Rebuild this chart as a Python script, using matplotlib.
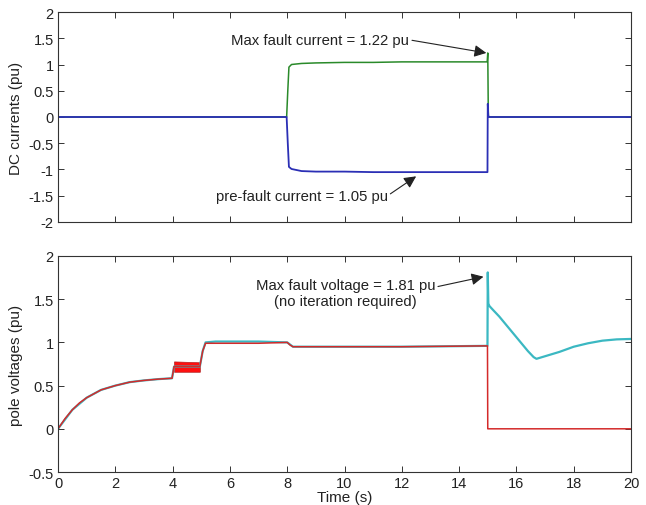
import matplotlib
matplotlib.use('Agg')
import matplotlib.pyplot as plt

plt.rcParams['font.family'] = ['Liberation Sans', 'DejaVu Sans']

# DC currents (top panel)
t_green = [0, 7.98, 8.02, 8.06, 8.15, 8.5, 9, 10, 11, 12, 13, 14, 14.98, 15.0, 15.02, 20]
i_green = [0, 0, 0.5, 0.95, 1.0, 1.02, 1.03, 1.04, 1.04, 1.05, 1.05, 1.05, 1.05, 1.22, 0, 0]
t_blue = [0, 7.98, 8.02, 8.06, 8.15, 8.5, 9, 10, 11, 12, 13, 14, 14.99, 15.0, 15.02, 15.05, 20]
i_blue = [0, 0, -0.5, -0.95, -0.99, -1.03, -1.04, -1.04, -1.05, -1.05, -1.05, -1.05, -1.05,
          0.25, 0.02, 0, 0]

# pole voltages (bottom panel)
t_red = [0, 0.25, 0.5, 0.75, 1, 1.5, 2, 2.5, 3, 3.5, 3.98, 4.05, 4.95, 5.05, 5.15, 5.5, 7,
         8, 8.1, 8.2, 9, 12, 14.99, 15.0, 20]
v_red = [0, 0.12, 0.22, 0.3, 0.36, 0.45, 0.5, 0.54, 0.56, 0.575, 0.585, 0.72, 0.72, 0.9, 0.99,
         0.99, 0.99, 1.0, 0.97, 0.95, 0.95, 0.95, 0.96, 0, 0]
t_band = [4.05, 4.95]
band_lo = [0.66, 0.66]
band_hi = [0.78, 0.77]
t_cyan = [0, 0.5, 1, 1.5, 2, 2.5, 3, 3.5, 3.98, 4.05, 4.95, 5.05, 5.15, 5.5, 7, 8, 8.2, 12,
          14.99, 15.0, 15.02, 15.06, 15.2, 15.4, 15.6, 15.8, 16.0, 16.2, 16.4, 16.6, 16.7,
          17, 17.5, 18, 18.5, 19, 19.5, 20]
v_cyan = [0, 0.22, 0.36, 0.45, 0.5, 0.54, 0.56, 0.575, 0.585, 0.72, 0.72, 0.9, 1.0, 1.01, 1.01,
          1.0, 0.95, 0.95, 0.96, 1.81, 1.45, 1.42, 1.37, 1.3, 1.22, 1.14, 1.06, 0.98, 0.9,
          0.83, 0.81, 0.84, 0.89, 0.95, 0.99, 1.02, 1.035, 1.04]

x_ticks = [0, 2, 4, 6, 8, 10, 12, 14, 16, 18, 20]

fig = plt.figure(figsize=(6.46, 5.06), dpi=100)
ax1 = fig.add_axes([0.0898, 0.5593, 0.887, 0.415])
ax2 = fig.add_axes([0.0898, 0.0652, 0.887, 0.4269])

ax1.plot(t_green, i_green, color='#2a8a2a', lw=1.1)
ax1.plot(t_blue, i_blue, color='#2b2fb5', lw=1.3)
ax1.set_xlim(0, 20)
ax1.set_ylim(-2, 2)
ax1.set_xticks(x_ticks)
ax1.set_xticklabels([])
ax1.set_yticks([-2, -1.5, -1, -0.5, 0, 0.5, 1, 1.5, 2])
ax1.set_yticklabels(['-2', '-1.5', '-1', '-0.5', '0', '0.5', '1', '1.5', '2'])
ax1.set_ylabel('DC currents (pu)', fontsize=11, color='#222222', labelpad=4)

arrow = dict(arrowstyle='-|>', color='#222222', lw=0.8, mutation_scale=18,
             shrinkA=0, shrinkB=0)

ax1.annotate('Max fault current = 1.22 pu', xy=(14.95, 1.22), xytext=(6.05, 1.47),
             fontsize=10.7, color='#222222', va='center',
             arrowprops=dict(arrow, relpos=(1, 0.5)))
ax1.annotate('pre-fault current = 1.05 pu', xy=(12.5, -1.13), xytext=(5.5, -1.5),
             fontsize=10.7, color='#222222', va='center',
             arrowprops=dict(arrow, relpos=(1, 0.5)))

ax2.plot(t_cyan, v_cyan, color='#3bb8c2', lw=1.6)
ax2.fill_between(t_band, band_lo, band_hi, color='#ff1010', lw=0.5, edgecolor='#b02020')
ax2.plot(t_red, v_red, color='#d42a2a', lw=1.1)
ax2.set_xlim(0, 20)
ax2.set_ylim(-0.5, 2)
ax2.set_xticks(x_ticks)
ax2.set_yticks([-0.5, 0, 0.5, 1, 1.5, 2])
ax2.set_yticklabels(['-0.5', '0', '0.5', '1', '1.5', '2'])
ax2.set_ylabel('pole voltages (pu)', fontsize=11, color='#222222', labelpad=4)
ax2.set_xlabel('Time (s)', fontsize=11, color='#222222', labelpad=0)

ax2.annotate('Max fault voltage = 1.81 pu\n(no iteration required)', xy=(14.85, 1.76),
             xytext=(6.9, 1.57), fontsize=10.7, color='#222222', va='center',
             ha='left', multialignment='center', linespacing=1.2,
             arrowprops=dict(arrow, relpos=(1, 0.7)))

for ax in (ax1, ax2):
    ax.tick_params(direction='in', top=True, right=True, length=4, width=0.7,
                   labelsize=10.5, colors='#333333', labelcolor='#222222', pad=3)
    for s in ax.spines.values():
        s.set_color('#333333')
        s.set_linewidth(0.8)

fig.savefig('out.png', dpi=100)
